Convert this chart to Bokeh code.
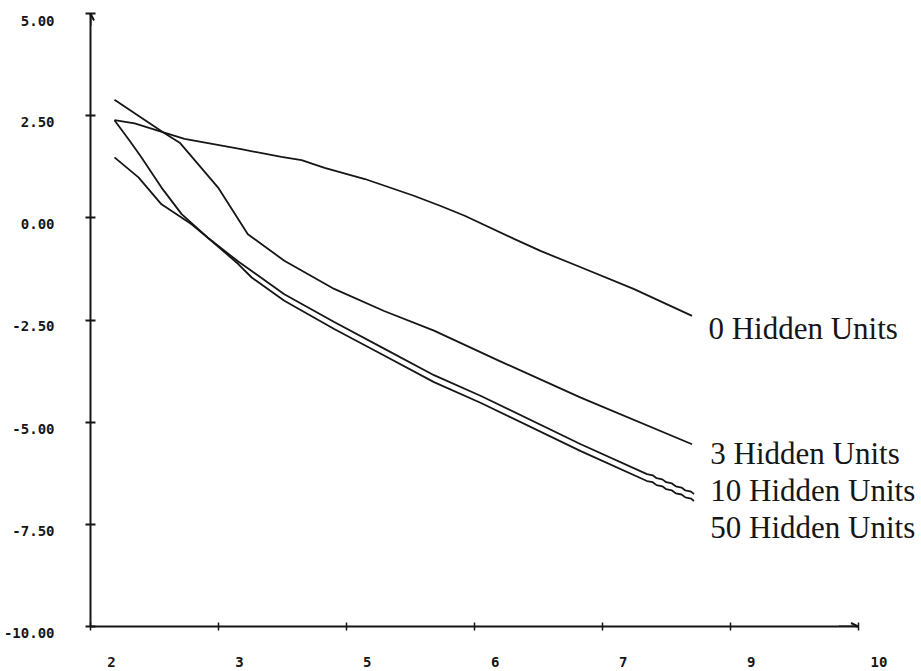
from bokeh.plotting import figure
from bokeh.models import (LinearAxis, FixedTicker, Range1d, ColumnDataSource,
                          Arrow, OpenHead)
from bokeh.core.properties import value
from bokeh.embed import file_html
from bokeh.resources import INLINE

# ---- data ----
x_h0 = [2.25, 2.46, 2.76, 2.98, 3.57, 3.99, 4.20, 4.44, 4.86, 5.37, 5.65, 5.90, 6.42, 6.69, 7.11, 7.66, 8.27]
y_h0 = [2.39, 2.31, 2.09, 1.93, 1.68, 1.49, 1.41, 1.22, 0.95, 0.54, 0.29, 0.05, -0.52, -0.81, -1.21, -1.74, -2.40]

x_h3 = [2.25, 2.76, 2.93, 3.33, 3.64, 4.02, 4.54, 5.06, 5.58, 6.26, 7.11, 8.27]
y_h3 = [2.89, 2.09, 1.84, 0.74, -0.40, -1.05, -1.74, -2.28, -2.76, -3.50, -4.40, -5.54]

x_h10 = [2.25, 2.50, 2.74, 3.05, 3.22, 3.54, 3.68, 4.02, 4.54, 5.06, 5.58, 6.07, 7.11, 7.80,
         7.86, 7.90, 7.96, 8.00, 8.06, 8.10, 8.16, 8.20, 8.26, 8.29]
y_h10 = [1.48, 0.99, 0.33, -0.15, -0.48, -1.07, -1.30, -1.87, -2.55, -3.20, -3.85, -4.36, -5.54, -6.27,
         -6.30, -6.37, -6.40, -6.47, -6.50, -6.57, -6.60, -6.67, -6.70, -6.76]

x_h50 = [2.25, 2.41, 2.53, 2.74, 2.95, 3.22, 3.54, 3.68, 4.02, 4.54, 5.06, 5.58, 6.07, 7.11, 7.80,
         7.86, 7.90, 7.96, 8.00, 8.06, 8.10, 8.16, 8.20, 8.26, 8.29]
y_h50 = [2.39, 1.88, 1.48, 0.74, 0.09, -0.48, -1.13, -1.46, -2.03, -2.72, -3.37, -4.02, -4.53, -5.71, -6.44,
         -6.47, -6.54, -6.57, -6.64, -6.67, -6.74, -6.77, -6.84, -6.87, -6.93]

series_names = ["0 Hidden Units", "3 Hidden Units", "10 Hidden Units", "50 Hidden Units"]

x_tick_values = [2.0, 10 / 3, 14 / 3, 6.0, 22 / 3, 26 / 3, 10.0]
x_tick_labels = ["2", "3", "5", "6", "7", "9", "10"]
y_tick_values = [5.0, 2.5, 0.0, -2.5, -5.0, -7.5, -10.0]
y_tick_labels = ["5.00", "2.50", "0.00", "-2.50", "-5.00", "-7.50", "-10.00"]

# label placement (annotation layout)
label_x = [8.44, 8.46, 8.46, 8.46]
label_y = [-2.72, -5.77, -6.68, -7.585]

# ---- figure ----
INK = "#161616"
p = figure(width=921, height=671, output_backend="svg", toolbar_location=None,
           x_range=Range1d(2, 10.63), y_range=Range1d(-10, 5),
           x_axis_location=None, y_axis_location=None,
           min_border_left=89, min_border_right=3, min_border_top=13, min_border_bottom=45)
p.outline_line_color = None
p.xgrid.visible = False
p.ygrid.visible = False
p.background_fill_color = "white"
p.border_fill_color = "white"

for xs, ys in [(x_h0, y_h0), (x_h3, y_h3), (x_h10, y_h10), (x_h50, y_h50)]:
    p.line(xs, ys, line_color=INK, line_width=1.8)

src = ColumnDataSource(dict(x=label_x, y=label_y, t=series_names))
p.text(x="x", y="y", text="t", source=src, text_font=value("Liberation Serif"),
       text_font_size="31px", text_color=INK, text_align="left", text_baseline="middle")

# y axis (labels sit a little below their ticks, as in the reference)
yax = LinearAxis(ticker=FixedTicker(ticks=y_tick_values),
                 major_label_overrides={v: "\n" + l for v, l in zip(y_tick_values, y_tick_labels)})
yax.axis_line_width = 2
yax.axis_line_color = INK
yax.major_tick_in = 5
yax.major_tick_out = 5
yax.major_tick_line_width = 2
yax.major_tick_line_color = INK
yax.minor_tick_line_color = None
yax.major_label_standoff = 31
yax.major_label_text_font = "DejaVu Sans Mono"
yax.major_label_text_font_style = "bold"
yax.major_label_text_font_size = "14px"
yax.major_label_text_line_height = 0.8
yax.major_label_text_color = INK
p.add_layout(yax, "left")

# x axis (line + tick marks only)
xax = LinearAxis(ticker=FixedTicker(ticks=x_tick_values), bounds=(2, 10))
xax.axis_line_width = 2
xax.axis_line_color = INK
xax.major_tick_in = 4
xax.major_tick_out = 4
xax.major_tick_line_width = 1.5
xax.major_tick_line_color = INK
xax.minor_tick_line_color = None
xax.major_label_text_font_size = "1px"
xax.major_label_text_color = None
xax.major_label_standoff = 0
p.add_layout(xax, "below")

# x axis tick labels (set slightly right of their ticks as in the reference)
shift = 0.2185
x_label_pos = [v + shift for v in x_tick_values]
xlab = LinearAxis(ticker=FixedTicker(ticks=x_label_pos),
                  major_label_overrides={v: l for v, l in zip(x_label_pos, x_tick_labels)})
xlab.axis_line_color = None
xlab.major_tick_line_color = None
xlab.minor_tick_line_color = None
xlab.major_tick_in = 0
xlab.major_tick_out = 0
xlab.major_label_standoff = 26
xlab.major_label_text_font = "DejaVu Sans Mono"
xlab.major_label_text_font_style = "bold"
xlab.major_label_text_font_size = "14px"
xlab.major_label_text_color = INK
p.add_layout(xlab, "below")

# arrow heads at the axis ends
p.add_layout(Arrow(end=OpenHead(size=7, line_width=2, line_color=INK),
                   x_start=2, y_start=4.7, x_end=2, y_end=5, line_width=2, line_color=INK))
p.add_layout(Arrow(end=OpenHead(size=7, line_width=2, line_color=INK),
                   x_start=9.8, y_start=-10, x_end=10, y_end=-10, line_width=2, line_color=INK))

open("out.html", "w").write(file_html(p, INLINE))
